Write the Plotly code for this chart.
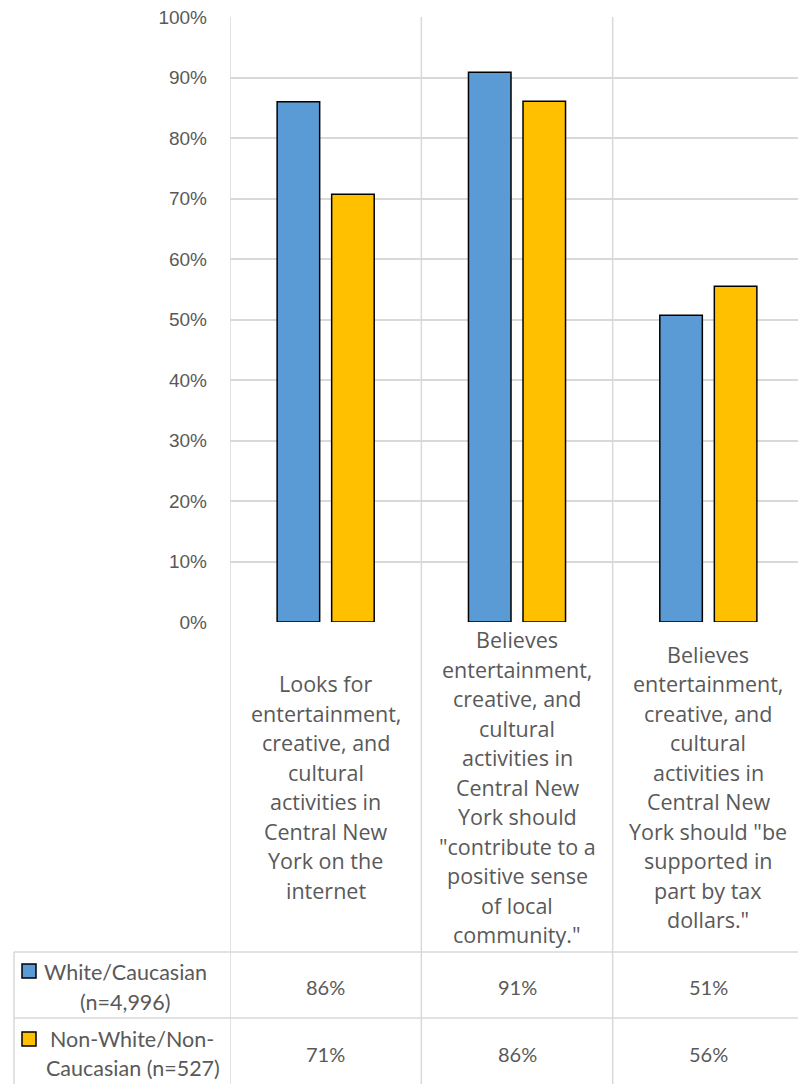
import plotly.graph_objects as go

# ---- data ----
categories = [
    ["Looks for", "entertainment,", "creative, and", "cultural", "activities in",
     "Central New", "York on the", "internet"],
    ["Believes", "entertainment,", "creative, and", "cultural", "activities in",
     "Central New", "York should", "\"contribute to a", "positive sense", "of local",
     "community.\""],
    ["Believes", "entertainment,", "creative, and", "cultural", "activities in",
     "Central New", "York should \"be", "supported in", "part by tax", "dollars.\""],
]
series_names = [["White/Caucasian", "(n=4,996)"], ["Non-White/Non-", "Caucasian (n=527)"]]
white_vals = [86.0, 90.9, 50.7]
nonwhite_vals = [70.7, 86.1, 55.5]
series_values = [white_vals, nonwhite_vals]
colors = ["#5B9BD5", "#FFC000"]
y_ticks = [0, 10, 20, 30, 40, 50, 60, 70, 80, 90, 100]

# page offset of the figure (body margin) compensated here
OFF = 8
W, H = 806 - OFF, 1084 - OFF
def py(y):  # page pixel y -> paper
    return 1 - (y - OFF) / H
def px(x):
    return (x - OFF) / W

PLOT_L, PLOT_R, PLOT_T, PLOT_B = 230, 804, 16.5, 622
Y_MAX = 100.1
TABLE_L = 14
ROW1_T, ROW2_T = 952, 1018
GRID = "#D9D9D9"
TXT = "#595959"

xs = list(range(len(categories)))
fig = go.Figure()
for name, vals, col in zip(series_names, series_values, colors):
    fig.add_trace(go.Bar(
        x=xs, y=vals, name=" ".join(name), marker=dict(color=col, line=dict(color="black", width=1.5)),
        hoverinfo="skip"))

shapes = []
for b in [-0.5, 0.5, 1.5, 2.5]:
    shapes.append(dict(type="line", xref="x", yref="paper", x0=b, x1=b,
                       y0=0, y1=py(17), line=dict(color=GRID, width=1.5), layer="below"))
for yy in [ROW1_T, ROW2_T]:
    shapes.append(dict(type="line", xref="paper", yref="paper", x0=px(TABLE_L), x1=px(PLOT_R),
                       y0=py(yy), y1=py(yy), line=dict(color=GRID, width=1.5)))
shapes.append(dict(type="line", xref="paper", yref="paper", x0=px(TABLE_L), x1=px(TABLE_L),
                   y0=0, y1=py(ROW1_T), line=dict(color=GRID, width=1.5)))
for (y0, y1), col in zip([(964, 978), (1032, 1046)], colors):
    shapes.append(dict(type="rect", xref="paper", yref="paper", x0=px(22), x1=px(36),
                       y0=py(y1), y1=py(y0), fillcolor=col, line=dict(color="black", width=1.5)))

annotations = []
CAT_FONT = dict(family="Open Sans", size=21.5, color=TXT)
LINE_H = 29.5
CENTER_Y = 787
for i, lines in enumerate(categories):
    n = len(lines)
    for j, ln in enumerate(lines):
        yc = CENTER_Y + (j - (n - 1) / 2) * LINE_H
        annotations.append(dict(x=i, y=py(yc), xref="x", yref="paper", text=ln, showarrow=False,
                                font=CAT_FONT, xanchor="center", yanchor="middle"))

ROW_FONT = dict(family="Lato", size=21.5, color=TXT)
row_label_pos = [((125, 972), (125, 1002)), ((132, 1039), (133, 1068))]
for name, poss in zip(series_names, row_label_pos):
    for ln, (xx, yy) in zip(name, poss):
        annotations.append(dict(x=px(xx), y=py(yy), xref="paper", yref="paper", text=ln,
                                showarrow=False, font=ROW_FONT, xanchor="center", yanchor="middle"))
row_val_y = [987, 1054]
for vals, yy in zip(series_values, row_val_y):
    for i, v in enumerate(vals):
        annotations.append(dict(x=i, y=py(yy), xref="x", yref="paper", text=f"{round(v)}%",
                                showarrow=False, font=dict(family="Lato", size=20, color=TXT),
                                xanchor="center", yanchor="middle"))

fig.update_layout(
    width=W, height=H, margin=dict(l=0, r=0, t=0, b=0, pad=0, autoexpand=False),
    paper_bgcolor="white", plot_bgcolor="white",
    barmode="group", bargap=0.43, bargroupgap=0.22, showlegend=False,
    xaxis=dict(domain=[px(PLOT_L), px(PLOT_R)], range=[-0.5, 2.5], showticklabels=False,
               showgrid=False, zeroline=False, showline=False, fixedrange=True, automargin=False),
    yaxis=dict(domain=[py(PLOT_B), py(PLOT_T)], range=[0, Y_MAX], tickvals=y_ticks, automargin=False,
               ticktext=[f"{t}%" for t in y_ticks], showgrid=True, gridcolor=GRID, gridwidth=1.5,
               zeroline=False, showline=False, ticks="", ticklabelstandoff=22,
               ticklabeloverflow="allow",
               tickfont=dict(family="Liberation Sans", size=19, color=TXT)),
    shapes=shapes, annotations=annotations,
)
fig.write_html("out.html")
